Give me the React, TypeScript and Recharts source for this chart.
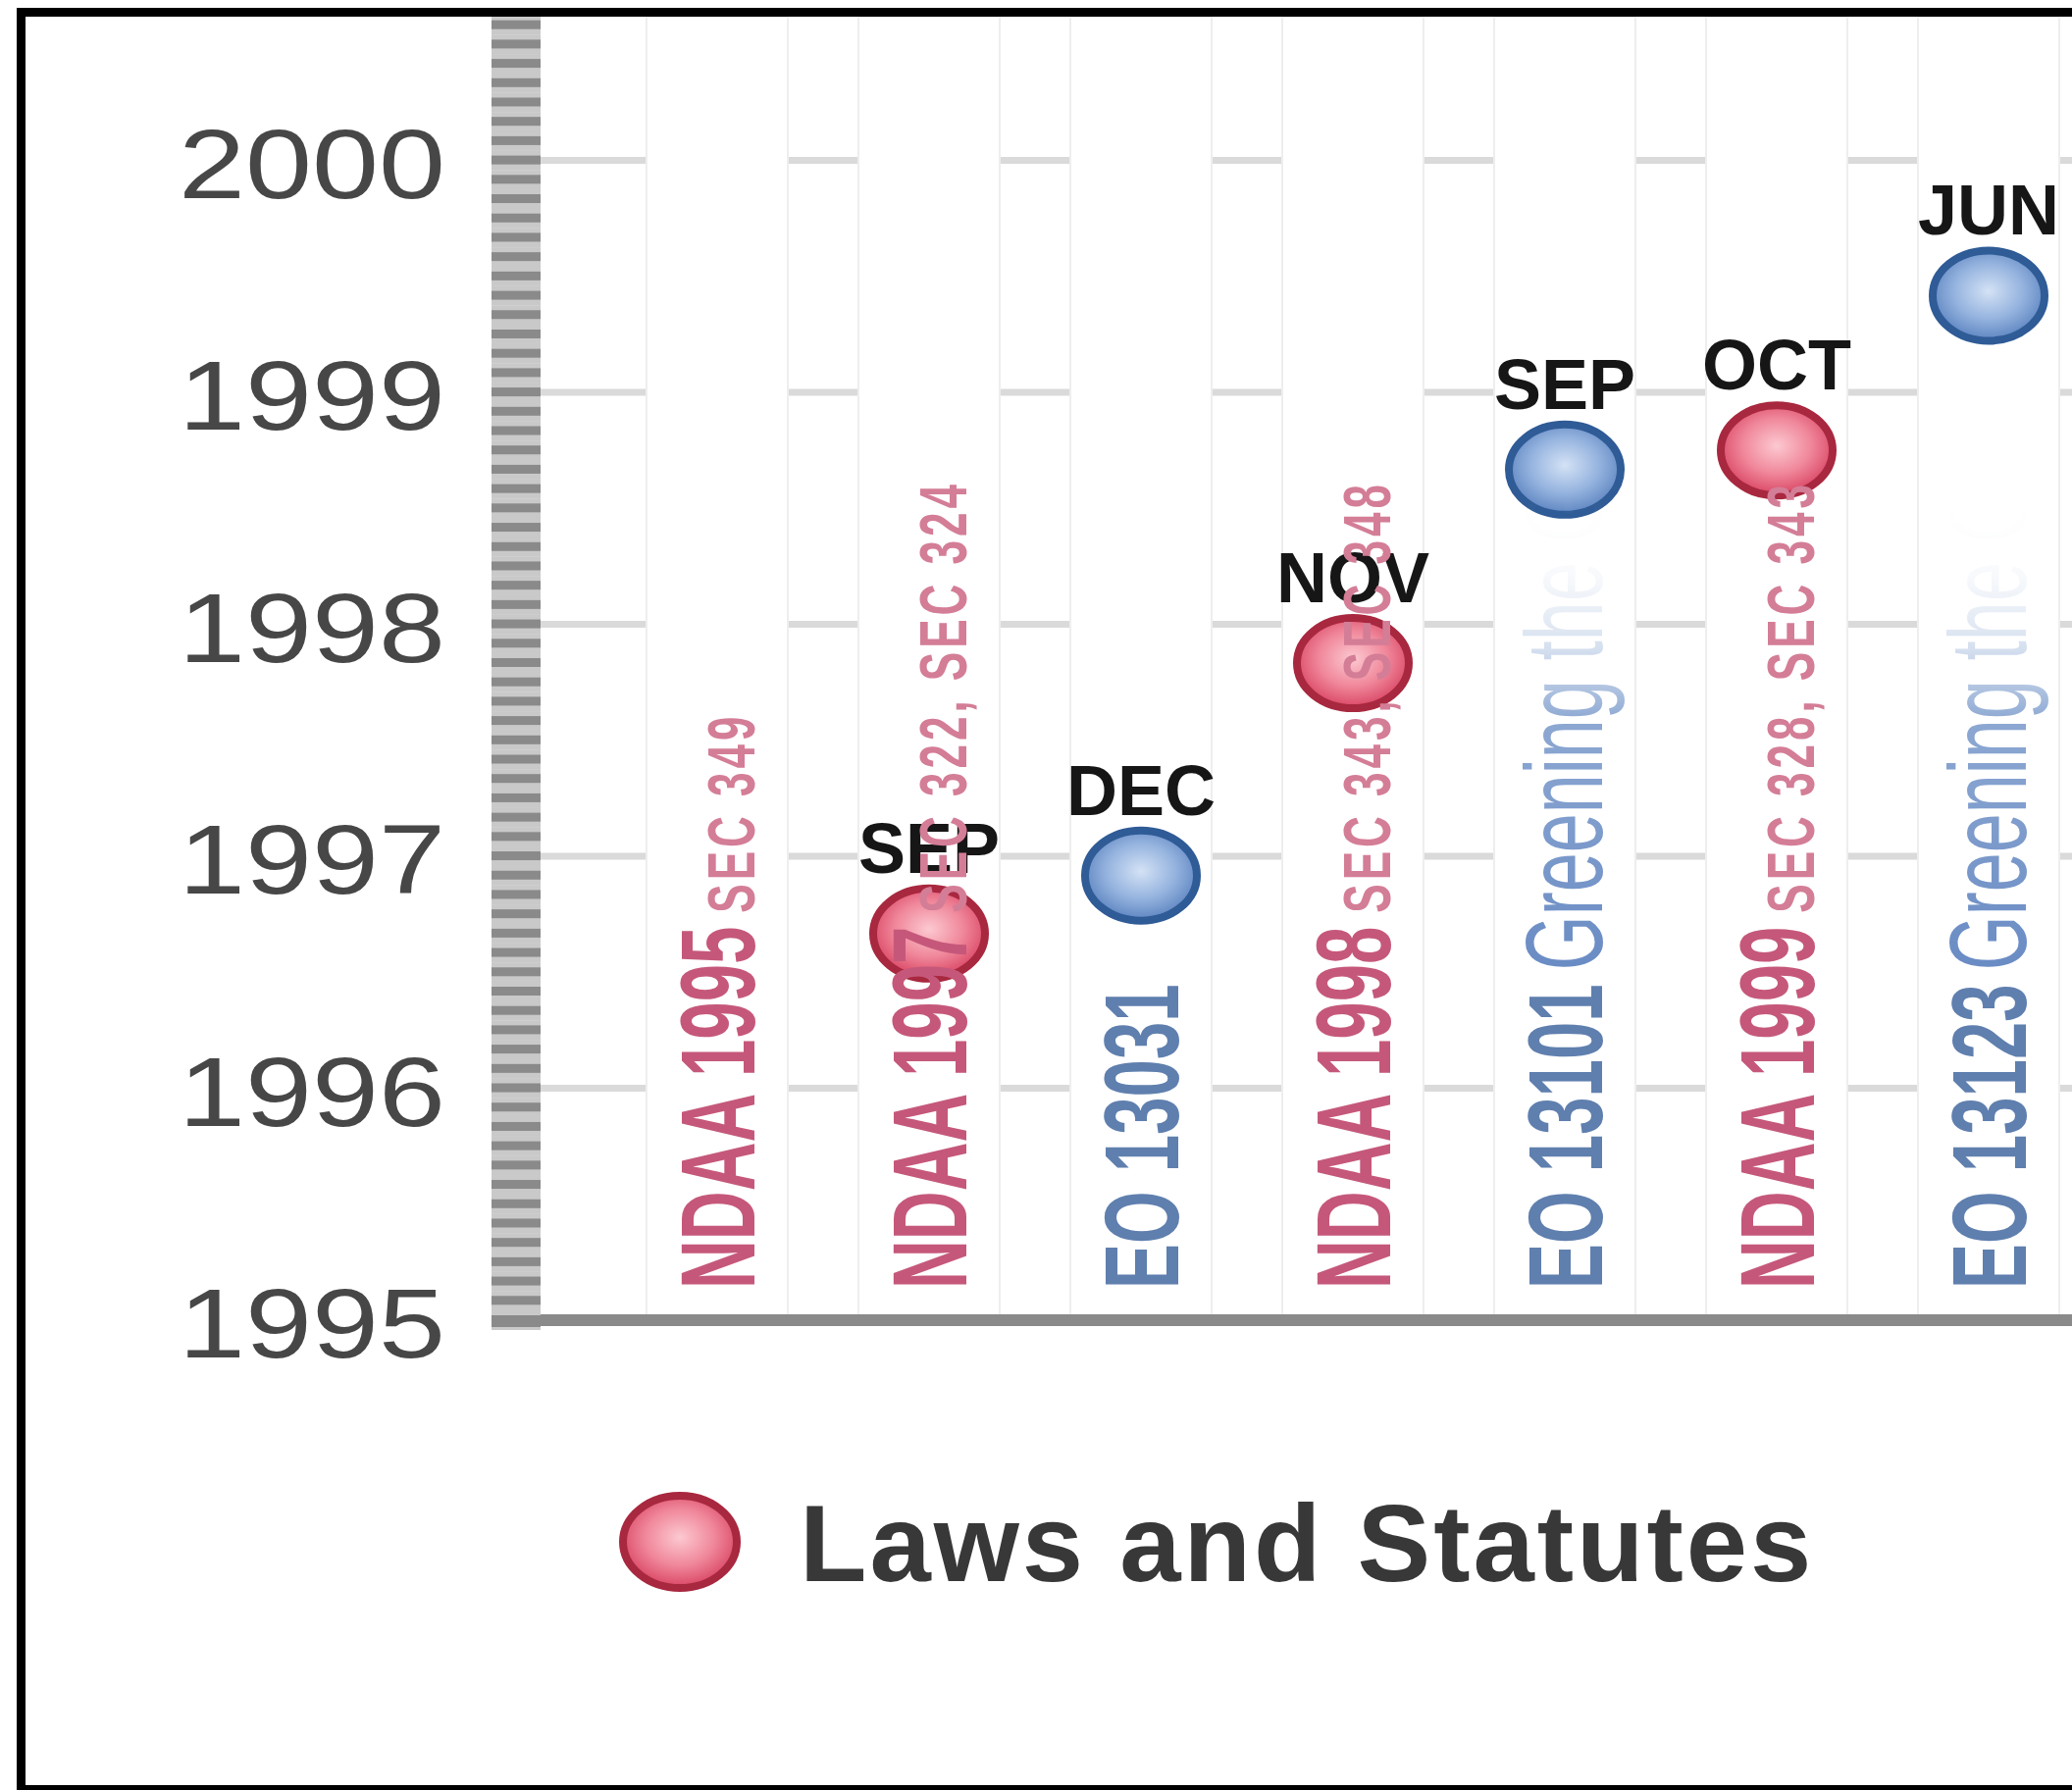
import { ComposedChart, Bar, Scatter, XAxis, YAxis, CartesianGrid, Legend } from 'recharts';

// events along the x axis, left to right
const EVENTS = ['NDAA 1995', 'NDAA 1997', 'EO 13031', 'NDAA 1998', 'EO 13101', 'NDAA 1999', 'EO 13123'];
const EVENT_NOTES = [
  'SEC 349',
  'SEC 322, SEC 324',
  '',
  'SEC 343, SEC 348',
  'Greening the Government',
  'SEC 328, SEC 343',
  'Greening the Government',
];
const EVENT_KIND = ['law', 'law', 'order', 'law', 'order', 'law', 'order'];
const EVENT_MONTH = ['OCT', 'SEP', 'DEC', 'NOV', 'SEP', 'OCT', 'JUN'];
// year + (month - 1) / 12
const EVENT_DATE = [1994.75, 1996.667, 1996.917, 1997.833, 1998.667, 1998.75, 1999.417];

const YEAR_TICKS = [1995, 1996, 1997, 1998, 1999, 2000];
const Y_DOMAIN: [number, number] = [1995, 2000.62];
const MONTH_TICKS = YEAR_TICKS.flatMap((y) => Array.from({ length: 12 }, (_, m) => y + m / 12)).filter(
  (v) => v <= Y_DOMAIN[1]
);

const FONT = "'Liberation Sans', Arial, sans-serif";

const KIND_STYLE: Record<string, { text: string; note: string; stroke: string; grad: string }> = {
  law: { text: '#c5587a', note: '#d47d97', stroke: '#a8283f', grad: 'dot-law' },
  order: { text: '#5f7fae', note: 'url(#fade-order)', stroke: '#2f5b96', grad: 'dot-order' },
};

const rows = EVENTS.map((name, i) => ({
  name,
  date: EVENT_DATE[i],
  month: EVENT_MONTH[i],
  laws: EVENT_KIND[i] === 'law' ? EVENT_DATE[i] : null,
  orders: EVENT_KIND[i] === 'order' ? EVENT_DATE[i] : null,
}));

function EventDot(props: any) {
  const { cx, cy, payload, kind } = props;
  const value = kind === 'law' ? payload?.laws : payload?.orders;
  if (value == null || value < Y_DOMAIN[0] || cx == null || cy == null) return <g />;
  const s = KIND_STYLE[kind];
  return (
    <g>
      <ellipse cx={cx} cy={cy} rx={57} ry={46} fill={`url(#${s.grad})`} stroke={s.stroke} strokeWidth={8} />
      <text x={cx} y={cy - 62} textAnchor="middle" fontFamily={FONT} fontWeight="bold" fontSize={72} fill="#161616">
        {payload.month}
      </text>
    </g>
  );
}

function EventLabel(props: any) {
  const { x, y, payload } = props;
  const i = payload.index;
  const kind = EVENT_KIND[i];
  const s = KIND_STYLE[kind];
  const note = EVENT_NOTES[i];
  return (
    <text
      transform={`translate(${x + 38}, ${y - 32}) rotate(-90) scale(1, 1.55)`}
      fontFamily={FONT}
      fontSize={69}
    >
      <tspan fontWeight="bold" fill={s.text}>{payload.value}</tspan>
      {note && kind === 'law' && (
        <tspan dx={14} fontSize={44} fontWeight="bold" letterSpacing={4} fill={s.note}>{note}</tspan>
      )}
      {note && kind === 'order' && (
        <tspan dx={14} fontSize={72} fill={s.note}>{note}</tspan>
      )}
    </text>
  );
}

function YearTick(props: any) {
  const { x, y, payload } = props;
  const v = payload.value;
  const isYear = Math.abs(v - Math.round(v)) < 1e-6;
  return (
    <g>
      <rect x={x - 50} y={y - 10} width={50} height={20} fill="#c9c9c9" />
      <rect x={x - 50} y={y - 5} width={50} height={v === Y_DOMAIN[0] ? 12 : 9} fill="#8a8a8a" />
      {isYear && (
        <text
          x={x - 97}
          y={y + 3}
          textAnchor="end"
          dominantBaseline="central"
          fontFamily={FONT}
          fontSize={100}
          textLength={272}
          lengthAdjust="spacingAndGlyphs"
          fill="#474747"
        >
          {Math.round(v)}
        </text>
      )}
    </g>
  );
}

// only the first legend entry falls inside the visible crop
function EventLegend({ payload }: any) {
  const items = (payload || []).filter((p: any) => p.dataKey === 'laws');
  return (
    <svg width={1400} height={150}>
      {items.map((item: any) => {
        const s = KIND_STYLE.law;
        return (
          <g key={item.dataKey}>
            <ellipse cx={67} cy={65} rx={58} ry={47} fill={`url(#${s.grad})`} stroke={s.stroke} strokeWidth={8} />
            <text x={189} y={105} fontFamily={FONT} fontWeight="bold" fontSize={112} letterSpacing={3} fill="#383838">
              {item.value}
            </text>
          </g>
        );
      })}
    </svg>
  );
}

export default function App() {
  return (
    <div style={{ position: 'absolute', left: 0, top: 0, width: 2112, height: 1825, overflow: 'hidden', background: '#fff' }}>
      <div
        style={{
          position: 'absolute',
          left: 17,
          top: 8,
          width: 2400,
          height: 1821,
          border: '9px solid #000',
          boxSizing: 'border-box',
          overflow: 'hidden',
          background: '#fff',
        }}
      >
        <ComposedChart width={2300} height={1803} data={rows} margin={{ top: 0, right: 0, bottom: 0, left: 0 }}>
          <defs>
            <radialGradient id="dot-law" cx="50%" cy="45%" r="55%">
              <stop offset="0%" stopColor="#fcc9d1" />
              <stop offset="55%" stopColor="#f0889b" />
              <stop offset="100%" stopColor="#d94564" />
            </radialGradient>
            <radialGradient id="dot-order" cx="50%" cy="45%" r="55%">
              <stop offset="0%" stopColor="#d4e2f5" />
              <stop offset="55%" stopColor="#96b4df" />
              <stop offset="100%" stopColor="#5c84c0" />
            </radialGradient>
            <linearGradient id="fade-order" gradientUnits="userSpaceOnUse" x1={330} y1={0} x2={810} y2={0}>
              <stop offset="0%" stopColor="#6a8cc4" stopOpacity={1} />
              <stop offset="52%" stopColor="#7898ca" stopOpacity={0.85} />
              <stop offset="67%" stopColor="#93aed6" stopOpacity={0.4} />
              <stop offset="83%" stopColor="#b5c7e2" stopOpacity={0.1} />
              <stop offset="100%" stopColor="#ffffff" stopOpacity={0} />
            </linearGradient>
          </defs>
          <CartesianGrid vertical={false} horizontalValues={YEAR_TICKS} stroke="#dadada" strokeWidth={7} />
          <Bar
            dataKey="date"
            barSize={144}
            fill="#ffffff"
            fillOpacity={0}
            legendType="none"
            isAnimationActive={false}
            background={{ fill: '#ffffff', stroke: '#eeeeee', strokeWidth: 2 }}
          />
          <XAxis
            dataKey="name"
            type="category"
            height={474}
            interval={0}
            padding={{ left: 72, right: 191 }}
            tickLine={false}
            tickSize={0}
            tickMargin={0}
            axisLine={{ stroke: '#8a8a8a', strokeWidth: 12 }}
            tick={<EventLabel />}
          />
          <YAxis
            type="number"
            width={525}
            domain={Y_DOMAIN}
            allowDataOverflow
            ticks={MONTH_TICKS}
            interval={0}
            tickLine={false}
            tickSize={0}
            tickMargin={0}
            axisLine={false}
            tick={<YearTick />}
          />
          <Scatter
            name="Laws and Statutes"
            dataKey="laws"
            fill="#d94564"
            isAnimationActive={false}
            shape={(p: any) => <EventDot {...p} kind="law" />}
          />
          <Scatter
            name="Executive Orders"
            dataKey="orders"
            fill="#5c84c0"
            isAnimationActive={false}
            shape={(p: any) => <EventDot {...p} kind="order" />}
          />
          <Legend
            layout="horizontal"
            verticalAlign="middle"
            align="center"
            wrapperStyle={{ left: 600, top: 1490, width: 1400, height: 150 }}
            content={<EventLegend />}
          />
        </ComposedChart>
      </div>
    </div>
  );
}
